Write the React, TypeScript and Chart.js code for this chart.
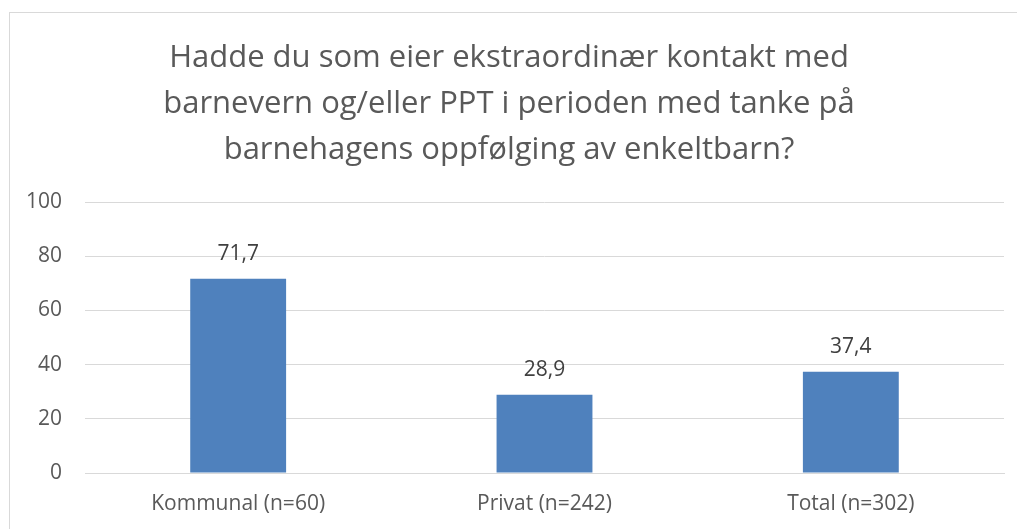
import React, { useEffect, useRef } from "react";
import { Chart, registerables } from "chart.js";

Chart.register(...registerables);

const titleLines = [
  "Hadde du som eier ekstraordinær kontakt med",
  "barnevern og/eller PPT i perioden med tanke på",
  "barnehagens oppfølging av enkeltbarn?",
];
const categories = ["Kommunal (n=60)", "Privat (n=242)", "Total (n=302)"];
const values = [71.7, 28.9, 37.4];
const yMin = 0;
const yMax = 100;
const yStep = 20;

const FONT = "'Open Sans', 'Noto Sans', sans-serif";

const titlePlugin = {
  id: "customTitle",
  afterDraw(chart: any) {
    const ctx = chart.ctx;
    ctx.save();
    ctx.font = `31px ${FONT}`;
    ctx.fillStyle = "#595959";
    ctx.textAlign = "center";
    ctx.textBaseline = "alphabetic";
    titleLines.forEach((line, i) => {
      ctx.fillText(line, 509, 67.3 + i * 46);
    });
    ctx.restore();
  },
};

const dataLabelPlugin = {
  id: "dataLabels",
  afterDatasetsDraw(chart: any) {
    const ctx = chart.ctx;
    const meta = chart.getDatasetMeta(0);
    ctx.save();
    ctx.font = `21px ${FONT}`;
    ctx.fillStyle = "#404040";
    ctx.textAlign = "center";
    ctx.textBaseline = "middle";
    meta.data.forEach((el: any, i: number) => {
      const v = chart.data.datasets[0].data[i] as number;
      const txt = v.toFixed(1).replace(".", ",");
      ctx.fillText(txt, el.x, el.y - 25);
    });
    ctx.restore();
  },
};

export default function App() {
  const ref = useRef<HTMLCanvasElement | null>(null);
  useEffect(() => {
    if (!ref.current) return;
    const chart = new Chart(ref.current, {
      type: "bar",
      data: {
        labels: categories,
        datasets: [
          {
            data: values,
            backgroundColor: "#4F81BD",
            borderWidth: 0,
            categoryPercentage: 1,
            barPercentage: 0.313,
          },
        ],
      },
      options: {
        animation: false,
        responsive: false,
        maintainAspectRatio: false,
        layout: { padding: { left: 0, right: 13, top: 202, bottom: 0 } },
        plugins: {
          legend: { display: false },
          tooltip: { enabled: false },
          title: { display: false },
        },
        scales: {
          x: {
            grid: { display: false, drawTicks: false },
            border: { display: true, color: "#d9d9d9" },
            ticks: {
              color: "#595959",
              font: { family: FONT, size: 21 },
              padding: 18,
              maxRotation: 0,
            },
            afterFit(scale: any) {
              scale.height = 56;
            },
          },
          y: {
            min: yMin,
            max: yMax,
            grid: { color: "#d9d9d9", lineWidth: 1, drawTicks: false },
            border: { display: false },
            ticks: {
              stepSize: yStep,
              color: "#595959",
              font: { family: FONT, size: 21 },
              padding: 23,
            },
            afterFit(scale: any) {
              scale.width = 85;
            },
          },
        },
      },
      plugins: [dataLabelPlugin, titlePlugin],
    });
    return () => chart.destroy();
  }, []);

  return (
    <div
      style={{
        position: "fixed",
        left: 0,
        top: 0,
        width: 1017,
        height: 529,
        overflow: "hidden",
        background: "#fff",
      }}
    >
      <div
        style={{
          position: "absolute",
          left: 9,
          top: 12,
          width: 1040,
          height: 560,
          borderLeft: "1px solid #d9d9d9",
          borderTop: "1px solid #d9d9d9",
          boxSizing: "border-box",
        }}
      />
      <canvas
        ref={ref}
        width={1017}
        height={529}
        style={{ position: "absolute", left: 0, top: 0, width: 1017, height: 529 }}
      />
    </div>
  );
}
